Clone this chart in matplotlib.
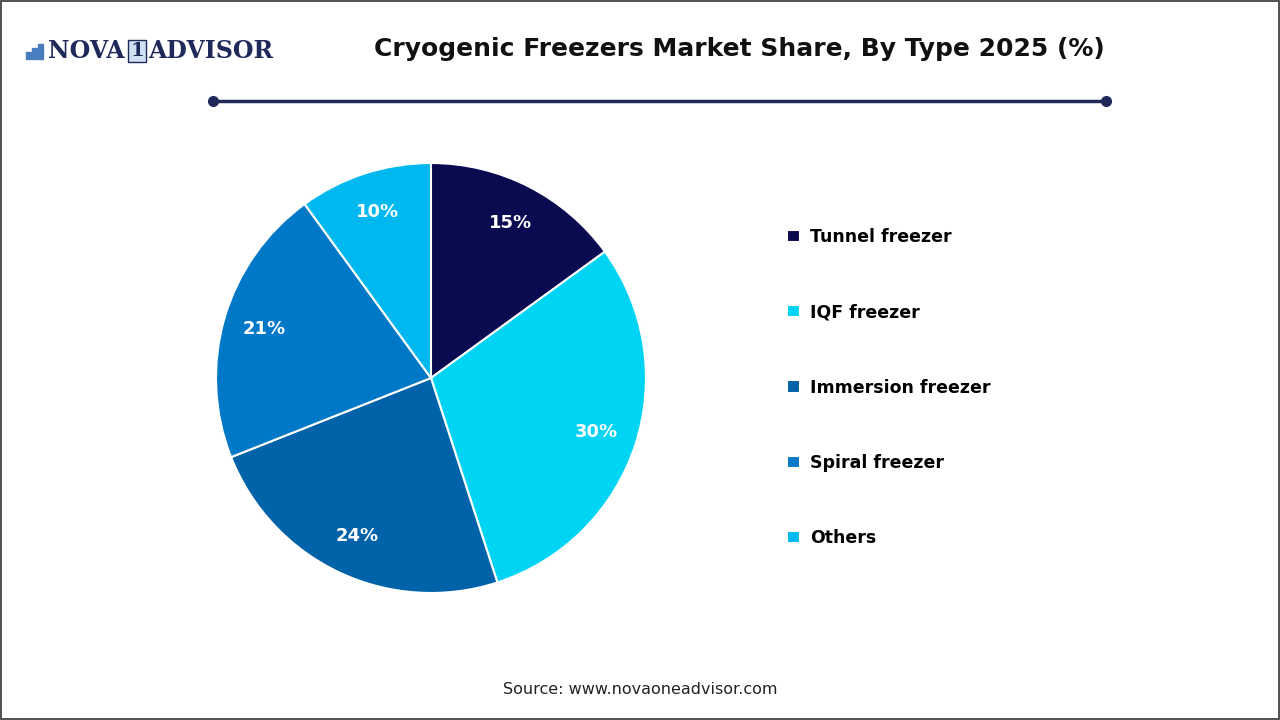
import matplotlib.pyplot as plt
from matplotlib.patches import Rectangle
from matplotlib.lines import Line2D

segments = ["Tunnel freezer", "IQF freezer", "Immersion freezer", "Spiral freezer", "Others"]
shares = [15, 30, 24, 21, 10]
colors = ["#0A0A50", "#00D4F5", "#0062A8", "#0078C8", "#00B8F0"]

fig = plt.figure(figsize=(12.8, 7.2), dpi=100)
fig.patch.set_facecolor("white")

# thin frame around the whole picture
fig.add_artist(Rectangle((0.0005, 0.001), 0.999, 0.998, transform=fig.transFigure,
                         fill=False, edgecolor="#333333", linewidth=1.2))

# pie
ax = fig.add_axes([0.3367 - 0.168, 0.475 - 0.2986, 0.336, 0.5972])
wedges, texts, autotexts = ax.pie(
    shares, colors=colors, startangle=90, counterclock=False,
    autopct=lambda p: f"{p:.0f}%", pctdistance=0.81,
    wedgeprops=dict(edgecolor="white", linewidth=1.5),
    textprops=dict(color="white", fontsize=13, fontweight="bold"))
ax.set_xlim(-1, 1)
ax.set_ylim(-1, 1)
ax.set_aspect("equal")

# legend
fig.legend(wedges, segments, loc="upper left", bbox_to_anchor=(0.603, 0.705),
           frameon=False, handlelength=0.7, handleheight=0.7, handletextpad=0.6,
           labelspacing=3.3, prop=dict(size=12.5, weight="bold"))

# title
fig.text(0.578, 0.932, "Cryogenic Freezers Market Share, By Type 2025 (%)",
         ha="center", va="center", fontsize=18, fontweight="bold", color="#111111")

# divider line
y_line = 1 - 101 / 720
fig.add_artist(Line2D([213 / 1280, 1106 / 1280], [y_line, y_line], transform=fig.transFigure,
                      color="#1F2A5A", linewidth=2.5, marker="o", markersize=7,
                      markevery=[0, 1]))

# logo
navy = "#1F2A5A"
for i, h in enumerate([7, 11, 15]):
    fig.add_artist(Rectangle(((26 + i * 6) / 1280, (720 - 59) / 720), 4.5 / 1280, h / 720,
                             transform=fig.transFigure, color="#4A7CC0"))
fig.text(48 / 1280, 1 - 51 / 720, "NOVA", ha="left", va="center", fontsize=17,
         fontweight="bold", family="DejaVu Serif", color=navy)
fig.text(137 / 1280, 1 - 51 / 720, "1", ha="center", va="center", fontsize=14,
         fontweight="bold", family="DejaVu Serif", color=navy,
         bbox=dict(boxstyle="square,pad=0.1", facecolor="#CFE0F0", edgecolor=navy, linewidth=1))
fig.text(148 / 1280, 1 - 51 / 720, "ADVISOR", ha="left", va="center", fontsize=17,
         fontweight="bold", family="DejaVu Serif", color=navy)

# source
fig.text(0.5, 1 - 689 / 720, "Source: www.novaoneadvisor.com", ha="center", va="center",
         fontsize=11.5, color="#222222")

fig.savefig("out.png", dpi=100, facecolor="white")
